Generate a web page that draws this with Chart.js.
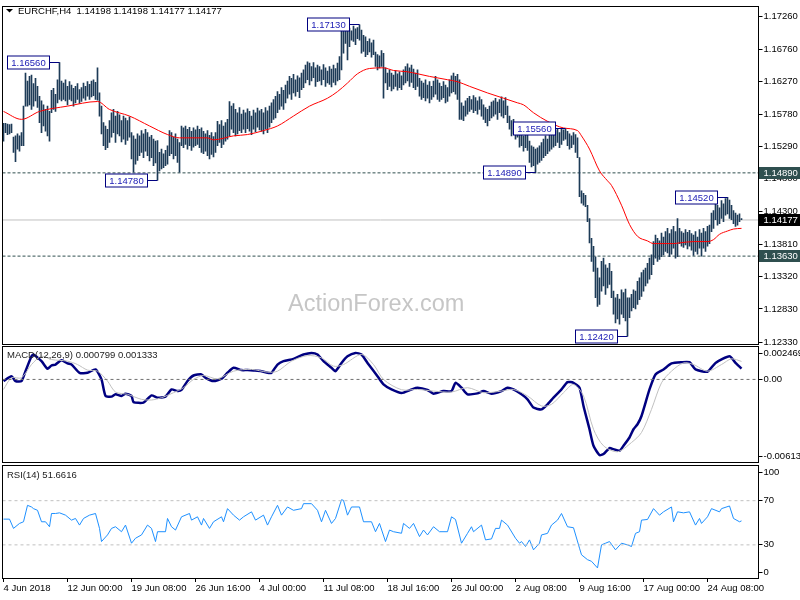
<!DOCTYPE html>
<html><head><meta charset="utf-8">
<script src="https://cdn.jsdelivr.net/npm/chart.js@4.4.1/dist/chart.umd.min.js"></script>
<style>
html,body{margin:0;padding:0;background:#fff;}
#wrap{position:relative;width:800px;height:600px;overflow:hidden;background:#fff;}
canvas{position:absolute;left:0;top:0;}
</style></head><body>
<div id="wrap">
<canvas id="cMain" width="800" height="600"></canvas>
<canvas id="cMacd" width="800" height="600"></canvas>
<canvas id="cRsi" width="800" height="600"></canvas>
</div>
<script>
// ---------------- DATA ----------------
const symbolTitle = 'EURCHF,H4';
const lastOHLC = [1.14198, 1.14198, 1.14177, 1.14177];

const barHigh = [
1.1564,1.1564,1.1563,1.1562,1.1563,1.1543,1.1545,1.1548,1.1545,1.1550,
1.1590,1.1640,1.1628,1.1635,1.1637,1.1624,1.1632,1.1620,1.1605,1.1598,
1.1592,1.1585,1.1590,1.1582,1.1614,1.1617,1.1608,1.1630,1.1656,1.1628,
1.1625,1.1630,1.1620,1.1627,1.1622,1.1617,1.1620,1.1624,1.1615,1.1618,
1.1625,1.1620,1.1627,1.1623,1.1628,1.1630,1.1626,1.1648,1.1610,1.1590,
1.1565,1.1560,1.1555,1.1568,1.1580,1.1585,1.1575,1.1582,1.1577,1.1568,
1.1575,1.1572,1.1568,1.1574,1.1550,1.1545,1.1540,1.1548,1.1545,1.1553,
1.1548,1.1555,1.1550,1.1543,1.1546,1.1540,1.1537,1.1538,1.1520,1.1525,
1.1518,1.1523,1.1530,1.1553,1.1550,1.1543,1.1548,1.1540,1.1535,1.1560,
1.1557,1.1560,1.1555,1.1558,1.1552,1.1557,1.1554,1.1560,1.1555,1.1557,
1.1552,1.1548,1.1553,1.1546,1.1550,1.1544,1.1550,1.1567,1.1562,1.1568,
1.1560,1.1565,1.1570,1.1597,1.1590,1.1594,1.1585,1.1580,1.1588,1.1578,
1.1584,1.1580,1.1586,1.1582,1.1575,1.1584,1.1580,1.1587,1.1583,1.1585,
1.1580,1.1588,1.1583,1.1590,1.1595,1.1600,1.1605,1.1612,1.1608,1.1618,
1.1614,1.1622,1.1628,1.1635,1.1632,1.1638,1.1630,1.1636,1.1633,1.1640,
1.1645,1.1652,1.1657,1.1655,1.1650,1.1656,1.1648,1.1652,1.1650,1.1645,
1.1653,1.1648,1.1643,1.1650,1.1646,1.1652,1.1647,1.1655,1.1665,1.1705,
1.1710,1.1706,1.1712,1.1708,1.1704,1.1711,1.1707,1.1709,1.1713,1.1705,
1.1697,1.1695,1.1688,1.1692,1.1686,1.1690,1.1672,1.1668,1.1666,1.1674,
1.1670,1.1648,1.1640,1.1645,1.1640,1.1637,1.1644,1.1639,1.1642,1.1636,
1.1645,1.1650,1.1654,1.1648,1.1652,1.1646,1.1640,1.1645,1.1632,1.1628,
1.1625,1.1630,1.1622,1.1627,1.1620,1.1628,1.1635,1.1630,1.1625,1.1620,
1.1627,1.1622,1.1618,1.1630,1.1636,1.1640,1.1635,1.1638,1.1630,1.1595,
1.1590,1.1598,1.1602,1.1605,1.1600,1.1606,1.1603,1.1598,1.1604,1.1600,
1.1592,1.1588,1.1585,1.1590,1.1596,1.1598,1.1602,1.1596,1.1600,1.1604,
1.1598,1.1603,1.1590,1.1575,1.1568,1.1570,1.1562,1.1565,1.1548,1.1552,
1.1545,1.1550,1.1547,1.1537,1.1530,1.1528,1.1525,1.1527,1.1530,1.1535,
1.1540,1.1545,1.1540,1.1548,1.1552,1.1550,1.1553,1.1555,1.1550,1.1556,
1.1554,1.1556,1.1552,1.1548,1.1545,1.1550,1.1547,1.1542,1.1512,1.1462,
1.1458,1.1455,1.1440,1.1420,1.1390,1.1378,1.1362,1.1345,1.1330,1.1355,
1.1360,1.1350,1.1345,1.1352,1.1340,1.1310,1.1300,1.1305,1.1298,1.1312,
1.1308,1.1313,1.1300,1.1300,1.1305,1.1312,1.1310,1.1325,1.1330,1.1338,
1.1342,1.1345,1.1352,1.1360,1.1365,1.1385,1.1395,1.1390,1.1386,1.1398,
1.1392,1.1400,1.1405,1.1397,1.1403,1.1408,1.1400,1.1420,1.1405,1.1400,
1.1398,1.1403,1.1399,1.1402,1.1397,1.1395,1.1400,1.1392,1.1403,1.1398,
1.1405,1.1400,1.1408,1.1410,1.1428,1.1432,1.1445,1.1440,1.1436,1.1447,
1.1442,1.1450,1.1452,1.1448,1.1440,1.1432,1.1428,1.1425,1.1427,1.1420
];
const barLow = [
1.1537,1.1550,1.1547,1.1548,1.1550,1.1520,1.1506,1.1525,1.1522,1.1530,
1.1530,1.1590,1.1590,1.1592,1.1585,1.1590,1.1598,1.1588,1.1565,1.1550,
1.1560,1.1552,1.1545,1.1537,1.1580,1.1585,1.1582,1.1595,1.1600,1.1598,
1.1600,1.1598,1.1592,1.1600,1.1598,1.1590,1.1595,1.1600,1.1594,1.1597,
1.1602,1.1599,1.1605,1.1600,1.1604,1.1606,1.1600,1.1599,1.1575,1.1548,
1.1530,1.1524,1.1527,1.1535,1.1543,1.1550,1.1535,1.1548,1.1545,1.1536,
1.1540,1.1532,1.1538,1.1543,1.1510,1.1490,1.1502,1.1508,1.1515,1.1520,
1.1512,1.1522,1.1515,1.1507,1.1512,1.1500,1.1504,1.1478,1.1492,1.1495,
1.1497,1.1500,1.1502,1.1515,1.1518,1.1510,1.1515,1.1505,1.1490,1.1530,
1.1527,1.1532,1.1525,1.1530,1.1523,1.1528,1.1530,1.1532,1.1527,1.1520,
1.1518,1.1522,1.1515,1.1510,1.1517,1.1513,1.1520,1.1530,1.1535,1.1527,
1.1532,1.1537,1.1540,1.1545,1.1555,1.1550,1.1545,1.1548,1.1553,1.1550,
1.1555,1.1550,1.1556,1.1552,1.1547,1.1555,1.1551,1.1558,1.1554,1.1552,
1.1548,1.1555,1.1550,1.1558,1.1565,1.1570,1.1572,1.1580,1.1585,1.1590,
1.1585,1.1595,1.1602,1.1608,1.1600,1.1610,1.1605,1.1612,1.1603,1.1615,
1.1618,1.1625,1.1630,1.1622,1.1628,1.1633,1.1620,1.1627,1.1628,1.1622,
1.1630,1.1620,1.1625,1.1623,1.1619,1.1626,1.1622,1.1628,1.1630,1.1645,
1.1670,1.1685,1.1660,1.1680,1.1690,1.1688,1.1683,1.1692,1.1690,1.1670,
1.1673,1.1665,1.1668,1.1672,1.1664,1.1668,1.1650,1.1645,1.1648,1.1650,
1.1602,1.1625,1.1615,1.1620,1.1613,1.1616,1.1620,1.1614,1.1618,1.1615,
1.1622,1.1625,1.1628,1.1620,1.1626,1.1618,1.1615,1.1620,1.1605,1.1600,
1.1603,1.1598,1.1602,1.1595,1.1600,1.1604,1.1608,1.1600,1.1597,1.1600,
1.1603,1.1595,1.1597,1.1605,1.1610,1.1612,1.1608,1.1600,1.1570,1.1570,
1.1568,1.1575,1.1578,1.1582,1.1585,1.1580,1.1583,1.1578,1.1585,1.1575,
1.1570,1.1565,1.1560,1.1568,1.1572,1.1575,1.1578,1.1570,1.1580,1.1575,
1.1572,1.1577,1.1565,1.1555,1.1545,1.1548,1.1540,1.1543,1.1528,1.1530,
1.1522,1.1527,1.1523,1.1505,1.1498,1.1500,1.1489,1.1502,1.1505,1.1508,
1.1512,1.1515,1.1518,1.1522,1.1525,1.1528,1.1530,1.1535,1.1527,1.1532,
1.1538,1.1540,1.1530,1.1525,1.1527,1.1532,1.1520,1.1512,1.1453,1.1443,
1.1440,1.1438,1.1415,1.1383,1.1355,1.1340,1.1300,1.1287,1.1290,1.1310,
1.1318,1.1305,1.1315,1.1320,1.1300,1.1275,1.1262,1.1268,1.1260,1.1275,
1.1270,1.1265,1.1242,1.1270,1.1280,1.1285,1.1283,1.1290,1.1297,1.1302,
1.1310,1.1318,1.1322,1.1328,1.1335,1.1350,1.1360,1.1355,1.1358,1.1362,
1.1365,1.1370,1.1368,1.1362,1.1366,1.1375,1.1360,1.1362,1.1382,1.1378,
1.1376,1.1380,1.1374,1.1378,1.1372,1.1364,1.1370,1.1366,1.1375,1.1363,
1.1375,1.1370,1.1378,1.1382,1.1400,1.1405,1.1418,1.1410,1.1412,1.1420,
1.1415,1.1425,1.1427,1.1420,1.1418,1.1412,1.1408,1.1410,1.1415,1.1418
];

// moving average (red) read at these bar indices
const maIdx = [0,9,18,32,47,53,63,73,82,88,102,105,115,122,130,137,145,153,162,167,172,177,183,190,195,202,207,213,222,227,233,242,250,257,260,265,272,280,287,289,293,298,302,304,309,313,317,322,325,335,338,345,352,355,358,362,365,369];
const maVal = [1.1582,1.1570,1.1582,1.1590,1.1597,1.1585,1.1575,1.1560,1.1547,1.1542,1.1542,1.1539,1.1545,1.1547,1.1553,1.1560,1.1575,1.1590,1.1602,1.1612,1.1625,1.1639,1.1647,1.1648,1.1644,1.1642,1.1639,1.1635,1.1630,1.1627,1.1620,1.1610,1.1602,1.1595,1.1592,1.1580,1.1567,1.1557,1.1553,1.1545,1.1525,1.1492,1.1477,1.1470,1.1440,1.1411,1.1393,1.1386,1.1382,1.1382,1.1383,1.1385,1.1385,1.1388,1.1396,1.1401,1.1404,1.1405];

const priceTicks = [1.17260,1.16760,1.16270,1.15780,1.15290,1.14800,1.14300,1.13810,1.13320,1.12830,1.12330];
const priceRange = [1.12300, 1.17405];
const levelLines = [1.14890, 1.13630];
const lastPrice = 1.14177;
const markIdx = [28, 77, 178, 266, 281, 362, 312];
const markPrice = [1.16560, 1.14780, 1.17130, 1.14890, 1.15560, 1.14520, 1.12420];

const macdIdx = [0,4,6,9,11,14,15,19,22,24,26,29,32,34,38,42,46,49,51,54,56,59,61,64,65,70,74,77,81,84,87,89,92,95,99,101,105,109,112,115,119,122,125,129,132,134,137,140,145,150,154,157,160,164,166,169,172,176,179,182,187,190,194,199,204,207,212,215,220,224,226,229,232,237,240,244,249,252,255,259,262,265,269,272,275,279,282,285,288,290,293,295,298,300,303,305,308,310,313,315,317,319,323,326,330,334,339,343,346,352,356,363,366,369];
const macdVal = [-0.00012,0.00024,-0.00012,-0.00012,0.00061,0.00171,0.00184,0.00135,0.00079,0.00103,0.00110,0.00142,0.00118,0.00110,0.00049,0.00049,0.00074,0.00000,-0.00122,-0.00127,-0.00110,-0.00122,-0.00105,-0.00122,-0.00167,-0.00171,-0.00118,-0.00135,-0.00127,-0.00074,-0.00086,-0.00078,-0.00012,0.00029,0.00037,0.00012,-0.00012,0.00005,0.00049,0.00086,0.00069,0.00069,0.00066,0.00061,0.00049,0.00049,0.00110,0.00135,0.00152,0.00184,0.00196,0.00184,0.00135,0.00086,0.00061,0.00122,0.00171,0.00196,0.00184,0.00122,0.00024,-0.00037,-0.00074,-0.00100,-0.00074,-0.00061,-0.00078,-0.00105,-0.00086,-0.00086,-0.00025,-0.00061,-0.00110,-0.00103,-0.00086,-0.00105,-0.00086,-0.00061,-0.00074,-0.00110,-0.00147,-0.00208,-0.00221,-0.00184,-0.00135,-0.00074,-0.00020,-0.00025,-0.00061,-0.00196,-0.00368,-0.00490,-0.00559,-0.00551,-0.00507,-0.00515,-0.00527,-0.00490,-0.00429,-0.00368,-0.00331,-0.00270,-0.00074,0.00037,0.00074,0.00118,0.00127,0.00127,0.00074,0.00057,0.00122,0.00171,0.00122,0.00080];
const sigIdx = [0,4,9,14,19,24,32,37,42,47,52,56,62,69,74,79,85,90,95,100,107,115,124,132,137,144,152,159,165,170,179,185,190,199,207,215,224,232,240,249,255,262,269,274,280,285,290,295,300,307,314,319,324,329,334,340,345,352,359,364,369];
const sigVal = [-0.00074,0.00012,0.00012,0.00110,0.00171,0.00147,0.00135,0.00110,0.00069,0.00061,-0.00012,-0.00093,-0.00110,-0.00147,-0.00152,-0.00135,-0.00098,-0.00061,0.00000,0.00029,0.00005,0.00061,0.00074,0.00054,0.00061,0.00135,0.00176,0.00159,0.00098,0.00110,0.00184,0.00110,0.00000,-0.00076,-0.00074,-0.00086,-0.00093,-0.00061,-0.00098,-0.00086,-0.00074,-0.00122,-0.00196,-0.00184,-0.00098,-0.00037,-0.00122,-0.00368,-0.00490,-0.00534,-0.00466,-0.00392,-0.00221,-0.00025,0.00061,0.00122,0.00110,0.00061,0.00110,0.00152,0.00133];
const macdRange = [-0.006136, 0.002469];
const macdNow = [0.000799, 0.001333];

const rsiIdx = [0,3,5,8,10,12,14,15,17,19,21,23,24,26,28,31,34,36,38,40,43,46,48,49,52,54,56,59,61,64,66,69,72,74,76,77,81,82,84,86,89,93,94,97,99,100,103,105,109,110,112,115,118,120,124,126,130,132,134,137,139,142,145,149,150,154,157,159,161,164,166,169,170,172,174,178,180,184,186,188,191,193,195,199,200,203,205,208,210,212,215,218,222,224,226,229,232,234,235,239,241,244,246,248,249,252,256,258,259,261,263,265,268,269,272,274,277,279,282,285,288,289,292,294,297,299,301,303,306,309,312,314,316,318,319,322,325,328,330,334,335,337,340,343,346,348,349,352,354,358,359,363,365,368,369];
const rsiVal = [53.3,53.3,44.9,49.4,50.9,65.8,64.3,62.8,61.3,50.9,50.9,46.4,58.4,58.4,59.0,56.9,52.4,53.9,47.9,53.9,56.9,58.4,44.9,33.0,39.0,44.9,46.4,41.9,47.9,31.5,36.0,39.0,47.9,44.9,33.0,41.9,41.9,53.9,46.4,43.4,55.4,58.4,52.4,55.4,47.9,53.9,44.9,50.9,55.4,50.9,62.8,56.9,52.4,55.4,59.9,52.4,56.9,47.9,55.4,65.8,56.9,64.3,61.3,62.8,67.3,67.3,61.3,50.9,61.3,49.4,53.9,70.9,70.3,56.9,64.3,64.3,50.9,50.9,41.9,49.4,33.0,43.4,41.9,40.5,49.4,44.9,49.4,37.5,43.4,39.0,46.4,41.9,41.9,55.4,53.0,31.5,40.4,46.4,41.9,47.9,34.5,35.4,44.9,44.9,52.4,47.9,36.0,31.5,33.0,28.5,34.5,25.5,31.5,39.0,40.4,47.9,52.4,58.4,46.4,45.5,27.0,21.0,16.6,15.1,9.1,30.0,31.5,33.0,25.5,31.5,30.0,28.5,40.4,41.9,52.4,53.0,62.8,56.9,59.9,64.3,50.9,59.9,59.0,59.9,47.9,53.9,49.4,55.4,62.8,59.9,62.8,65.2,53.9,50.9,51.7];
const rsiNow = 51.6616;
const rsiLevels = [70, 30];
const rsiTicks = [100, 70, 30, 0];

const dateIdx = [0,32,64,96,128,160,192,224,256,288,320,352];
const dateLabels = ['4 Jun 2018','12 Jun 00:00','19 Jun 08:00','26 Jun 16:00','4 Jul 00:00','11 Jul 08:00','18 Jul 16:00','26 Jul 00:00','2 Aug 08:00','9 Aug 16:00','17 Aug 00:00','24 Aug 08:00'];

// ---------------- LAYOUT / STYLE ----------------
const X_MIN = -0.5, X_MAX = 377.5;
const AXIS_W = 41.5;
function measure(f){ const c=document.createElement('canvas').getContext('2d'); c.font=f; return c.measureText('1.17260 Jun Aug MACD').width; }
const hasNarrow = Math.abs(measure('11px "Liberation Sans Narrow", monospace') - measure('11px monospace')) > 0.5;
const FF = hasNarrow ? '"Liberation Sans Narrow", "Liberation Sans", Arial, sans-serif' : '"Liberation Sans", Arial, sans-serif';
const FS = hasNarrow ? 11 : 9.5;
const fontStr = (s, w) => (w||'') + ' ' + s + 'px ' + FF;

Chart.defaults.font.family = FF;
Chart.defaults.font.size = FS;
Chart.defaults.color = '#000';

const pts = (idx, val) => idx.map((x, k) => ({x, y: val[k]}));
const hline = v => [{x: X_MIN, y: v}, {x: X_MAX, y: v}];

function panelBorder(chart){
  const ca = chart.chartArea, ctx = chart.ctx;
  ctx.save();
  ctx.strokeStyle = '#000'; ctx.lineWidth = 1;
  const l = Math.floor(ca.left)+0.5, r = Math.floor(ca.right)+0.5, t = Math.floor(ca.top)+0.5, b = Math.floor(ca.bottom)+0.5;
  ctx.strokeRect(l, t, r-l, b-t);
  ctx.restore();
}

const baseOpts = (pad) => ({
  responsive: false, animation: false, devicePixelRatio: 1, events: [],
  layout: {padding: pad},
  plugins: {legend: {display: false}, tooltip: {enabled: false}},
});

const yAxisBase = {
  position: 'right',
  afterFit: s => { s.width = AXIS_W; },
  grid: {drawOnChartArea: false, drawTicks: true, tickLength: 4, color: '#000'},
  border: {display: false},
};

// ---------------- MAIN PRICE PANEL ----------------
const barData = barHigh.map((h, i) => ({x: i, y: [barLow[i], h]}));

const mainPlugin = {
  id: 'mainDeco',
  beforeDatasetsDraw(chart){
    const ctx = chart.ctx;
    ctx.save();
    ctx.font = '23.5px "Liberation Sans", Arial, sans-serif';
    ctx.fillStyle = '#c6c6c6';
    ctx.textBaseline = 'alphabetic';
    ctx.fillText('ActionForex.com', 288, 311);
    ctx.restore();
  },
  afterDatasetsDraw(chart){
    const ctx = chart.ctx, xs = chart.scales.x, ys = chart.scales.y;
    ctx.save();
    ctx.font = fontStr(FS);
    ctx.textBaseline = 'middle';
    ctx.textAlign = 'center';
    markIdx.forEach((idx, k) => {
      const x = Math.round(xs.getPixelForValue(idx) - 0.5) + 0.5;
      const y = Math.round(ys.getPixelForValue(markPrice[k]) - 0.5) + 0.5;
      const right = x - 10, left = right - 42, top = y - 6.5;
      ctx.strokeStyle = '#000080'; ctx.lineWidth = 1;
      ctx.beginPath(); ctx.moveTo(right, y); ctx.lineTo(x, y); ctx.stroke();
      ctx.fillStyle = '#fff'; ctx.fillRect(left, top, 42, 13);
      ctx.strokeRect(left, top, 42, 13);
      ctx.fillStyle = '#1a1ab4';
      ctx.fillText(markPrice[k].toFixed(5), (left+right)/2, y + 0.5);
    });
    ctx.restore();
  },
  afterDraw(chart){
    panelBorder(chart);
    const ctx = chart.ctx, ys = chart.scales.y, ca = chart.chartArea;
    ctx.save();
    // right-side price tags
    const tags = [[levelLines[0], '#2f4f4f'], [lastPrice, '#000'], [levelLines[1], '#2f4f4f']];
    ctx.font = fontStr(FS);
    ctx.textBaseline = 'middle'; ctx.textAlign = 'left';
    tags.forEach(([v, col]) => {
      const y = ys.getPixelForValue(v);
      ctx.fillStyle = col;
      ctx.fillRect(Math.floor(ca.right) + 1, Math.round(y - 6), 42, 12);
      ctx.fillStyle = '#fff';
      ctx.fillText(v.toFixed(5), ca.right + 5, y + 0.5);
    });
    // title
    ctx.fillStyle = '#000';
    ctx.beginPath(); ctx.moveTo(6, 9); ctx.lineTo(13, 9); ctx.lineTo(9.5, 12.5); ctx.closePath(); ctx.fill();
    ctx.fillText(symbolTitle + '  ' + lastOHLC.map(v => v.toFixed(5)).join(' '), 18, 11);
    ctx.restore();
  }
};

new Chart(document.getElementById('cMain'), {
  type: 'bar',
  data: {datasets: [
    ...levelLines.map(v => ({type: 'line', data: hline(v), borderColor: '#2f4f4f', borderWidth: 1, borderDash: [3, 2], pointRadius: 0, order: 5})),
    {type: 'line', data: hline(lastPrice), borderColor: '#c0c0c0', borderWidth: 1, pointRadius: 0, order: 5},
    {type: 'bar', data: barData, backgroundColor: '#1d3b57', borderWidth: 0, barThickness: 1, order: 3},
    {type: 'line', data: pts(maIdx, maVal), borderColor: '#ff0000', borderWidth: 1, pointRadius: 0, cubicInterpolationMode: 'monotone', order: 1}
  ]},
  options: Object.assign(baseOpts({left: 2.5, top: 2, right: 0, bottom: 256}), {
    scales: {
      x: {type: 'linear', min: X_MIN, max: X_MAX, display: false, offset: false},
      y: Object.assign({}, yAxisBase, {
        type: 'linear', min: priceRange[0], max: priceRange[1],
        afterBuildTicks: s => { s.ticks = priceTicks.map(v => ({value: v})); },
        ticks: {callback: v => Number(v).toFixed(5), padding: 1, autoSkip: false, color: '#000'}
      })
    }
  }),
  plugins: [mainPlugin]
});

// ---------------- MACD PANEL ----------------
const macdTickText = [macdRange[1].toFixed(6), '0.00', macdRange[0].toFixed(6)];
new Chart(document.getElementById('cMacd'), {
  type: 'line',
  data: {datasets: [
    {data: hline(0), borderColor: '#707070', borderWidth: 1, borderDash: [3, 3], pointRadius: 0},
    {data: pts(sigIdx, sigVal), borderColor: '#c0c0c0', borderWidth: 1, pointRadius: 0, tension: 0.3},
    {data: pts(macdIdx, macdVal), borderColor: '#000080', borderWidth: 2.5, pointRadius: 0, tension: 0.2}
  ]},
  options: Object.assign(baseOpts({left: 2.5, top: 346, right: 0, bottom: 137.5}), {
    scales: {
      x: {type: 'linear', min: X_MIN, max: X_MAX, display: false, offset: false},
      y: Object.assign({}, yAxisBase, {
        type: 'linear', min: macdRange[0], max: macdRange[1],
        afterBuildTicks: s => { const r = (s.max - s.min) / 116.5; s.ticks = [{value: s.max - 7 * r}, {value: 0}, {value: s.min + 6 * r}]; },
        ticks: {callback: (v, i) => macdTickText[i], padding: 1, autoSkip: false}
      })
    }
  }),
  plugins: [{id: 'macdDeco', afterDraw(chart){
    panelBorder(chart);
    const ctx = chart.ctx; ctx.save();
    ctx.font = fontStr(FS); ctx.fillStyle = '#222'; ctx.textBaseline = 'middle'; ctx.textAlign = 'left';
    ctx.fillText('MACD(12,26,9) ' + macdNow[0].toFixed(6) + ' ' + macdNow[1].toFixed(6), 7, 355.5);
    ctx.restore();
  }}]
});

// ---------------- RSI PANEL ----------------
new Chart(document.getElementById('cRsi'), {
  type: 'line',
  data: {datasets: [
    ...rsiLevels.map(v => ({data: hline(v), borderColor: '#c0c0c0', borderWidth: 1, borderDash: [3, 3], pointRadius: 0})),
    {data: pts(rsiIdx, rsiVal), borderColor: '#1e90ff', borderWidth: 1, pointRadius: 0, tension: 0}
  ]},
  options: Object.assign(baseOpts({left: 2.5, top: 465, right: 0, bottom: 0}), {
    scales: {
      x: {type: 'linear', min: X_MIN, max: X_MAX, position: 'bottom', offset: false,
        afterFit: s => { s.height = 22; },
        afterBuildTicks: s => { s.ticks = dateIdx.map(v => ({value: v})); },
        ticks: {callback: (v, i) => dateLabels[i], align: 'start', autoSkip: false, maxRotation: 0, minRotation: 0, padding: 1},
        grid: {drawOnChartArea: false, drawTicks: true, tickLength: 4, color: '#000'},
        border: {display: false}
      },
      y: Object.assign({}, yAxisBase, {
        type: 'linear', min: 0, max: 102.3,
        afterBuildTicks: s => { const r = (s.max - s.min) / 113; s.ticks = rsiTicks.map(v => ({value: v === 100 ? v - 5 * r : (v === 0 ? v + 5.5 * r : v)})); },
        ticks: {callback: (v, i) => String(rsiTicks[i]), padding: 1, autoSkip: false}
      })
    }
  }),
  plugins: [{id: 'rsiDeco', afterDraw(chart){
    panelBorder(chart);
    const ctx = chart.ctx; ctx.save();
    ctx.font = fontStr(FS); ctx.fillStyle = '#222'; ctx.textBaseline = 'middle'; ctx.textAlign = 'left';
    ctx.fillText('RSI(14) ' + rsiNow.toFixed(4), 7, 475);
    ctx.restore();
  }}]
});
</script>
</body></html>
